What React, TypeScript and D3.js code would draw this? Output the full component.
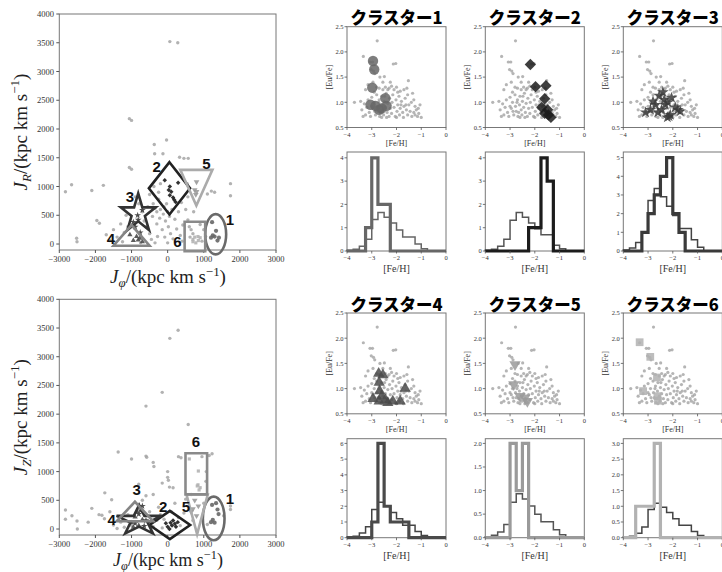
import React from "react";
import * as d3 from "d3";

const W = 722,
  H = 572;

// ---- action space: background stars [Jphi, JR] and [Jphi, JZ]
const bgJR: number[][] = [
  [60, 3520], [280, 3500], [-1060, 2180], [-1000, 2150], [-30, 1810], [-370, 1730],
  [-1060, 1330], [-1000, 1300], [-360, 1570], [-130, 1570], [330, 1510], [450, 1490],
  [570, 1490], [-2830, 910], [-2660, 1030], [-2100, 930], [-1780, 1020], [1740, 1050],
  [1740, 840], [1210, 920], [1300, 900], [1100, 870], [-1960, 410], [-1890, 360],
  [-2520, 100], [-2510, 40], [-1700, 160], [-1600, 60], [-1500, 250], [-1400, 120],
  [-1300, 350], [-1200, 200], [-1150, 500], [-1100, 300], [-700, 560], [-650, 400],
  [-600, 300], [-550, 650], [-500, 180], [-450, 80], [-420, 480], [-400, 700],
  [-350, 620], [-300, 560], [-300, 350], [-280, 130], [-250, 780], [-220, 450],
  [-200, 600], [-150, 250], [-120, 520], [-100, 650], [-80, 120], [-60, 400],
  [-30, 700], [0, 560], [20, 300], [50, 480], [80, 180], [120, 600], [150, 90],
  [200, 430], [250, 260], [300, 560], [350, 150], [380, 720], [420, 330], [500, 600],
  [540, 1050], [560, 820], [600, 300], [650, 250], [700, 180], [620, 120], [560, 420],
  [720, 560], [-800, 700], [-900, 820], [-250, 900], [-200, 1050], [-380, 1000],
  [-500, 860], [900, 340], [1000, 250], [950, 50], [1050, 130], [-1250, 40],
  [-750, 20], [-350, 20], [0, 20], [400, 50],
];
const bgJZ: number[][] = [
  [60, 3320], [290, 3460], [-150, 2380], [-600, 2140], [570, 1820], [-1370, 1340],
  [-600, 1270], [-580, 1250], [-1000, 1220], [-400, 1160], [-380, 1090], [300, 1260],
  [370, 1240], [1150, 1280], [1230, 1310], [1070, 1000], [1060, 830], [0, 1000],
  [0, 900], [20, 850], [-150, 800], [50, 730], [150, 720], [-800, 780], [-1740, 630],
  [-1550, 510], [-2100, 360], [-2830, 330], [-2650, 230], [-2830, 170], [-2510, 140],
  [-2500, 0], [-1900, 250], [-1820, 240], [1740, 400], [1740, 340], [1550, 230],
  [-1500, 70], [-1400, 10], [-1300, 120], [-1200, 30], [-1100, 250], [-1000, 60],
  [-700, 500], [-600, 580], [-500, 300], [-400, 40], [-300, 150], [-250, 380],
  [-200, 250], [-150, 20], [-100, 170], [100, 300], [200, 450], [300, 200], [350, 60],
  [450, 280], [500, 520], [600, 350], [700, 150], [650, 600], [-400, 600],
  [-1600, 300], [-1750, 180], [-2200, 120], [950, 1260], [1000, 450], [1100, 80],
];

// ---- abundance: background stars [[Fe/H], [Eu/Fe]]
const bgAbund: number[][] = [
  [-2.78, 2.22], [-3.34, 1.91], [-3.07, 1.8], [-2.97, 1.8], [-3.02, 1.65], [-2.93, 1.62],
  [-2.88, 1.57], [-2.13, 1.76], [-2.03, 1.77], [-2.67, 1.5], [-2.49, 1.51], [-1.52, 1.43],
  [-3.7, 1.0], [-3.25, 1.25], [-3.15, 1.35], [-2.95, 1.4], [-2.8, 1.3], [-2.7, 1.28],
  [-2.55, 1.25], [-2.45, 1.3], [-2.3, 1.28], [-2.2, 1.32], [-2.1, 1.25], [-2.0, 1.3],
  [-1.85, 1.22], [-1.7, 1.25], [-1.55, 1.15], [-1.35, 1.18], [-1.3, 1.05], [-1.25, 0.92],
  [-3.4, 0.85], [-3.35, 0.72], [-3.3, 0.97], [-3.2, 0.9], [-3.15, 1.05], [-3.1, 0.8],
  [-3.05, 0.72], [-3.0, 1.1], [-2.95, 0.88], [-2.9, 1.0], [-2.85, 0.75], [-2.8, 1.15],
  [-2.78, 0.92], [-2.75, 0.82], [-2.7, 1.05], [-2.68, 0.72], [-2.62, 0.95], [-2.6, 1.12],
  [-2.55, 0.85], [-2.52, 0.75], [-2.5, 1.02], [-2.45, 0.9], [-2.42, 1.18], [-2.38, 0.8],
  [-2.35, 0.98], [-2.3, 0.72], [-2.28, 1.08], [-2.25, 0.88], [-2.2, 0.78], [-2.18, 1.0],
  [-2.15, 1.15], [-2.1, 0.9], [-2.05, 0.72], [-2.02, 1.05], [-1.98, 0.82], [-1.95, 0.95],
  [-1.9, 1.12], [-1.88, 0.75], [-1.85, 0.88], [-1.8, 1.02], [-1.75, 0.8], [-1.72, 0.7],
  [-1.7, 0.92], [-1.65, 1.08], [-1.6, 0.85], [-1.55, 0.75], [-1.5, 0.95], [-1.45, 0.82],
  [-1.4, 1.0], [-1.38, 0.72], [-1.3, 0.8], [-1.25, 0.75], [-1.2, 0.85], [-1.15, 0.72],
  [-1.1, 0.78], [-1.0, 0.7], [-2.65, 0.8], [-2.88, 0.82], [-3.0, 0.92], [-2.4, 0.7],
  [-2.6, 0.7], [-2.0, 0.7], [-1.95, 1.2], [-2.35, 1.25], [-2.9, 1.2], [-3.25, 0.75],
  [-2.72, 1.0], [-2.48, 1.12], [-1.82, 0.95], [-1.62, 0.95], [-1.58, 1.28], [-2.25, 1.4],
  [-2.55, 1.4], [-3.45, 1.02], [-1.05, 0.95], [-1.12, 0.88],
];

// ---- clusters
const clusterNames = ["クラスター1", "クラスター2", "クラスター3", "クラスター4", "クラスター5", "クラスター6"];
const clusterColors = ["#676767", "#1c1c1c", "#3a3a3a", "#4a4a4a", "#9a9a9a", "#b2b2b2"];
const regionColors = ["#6a6a6a", "#222222", "#333333", "#858585", "#ababab", "#8a8a8a"];
const thinColors = ["#666666", "#555555", "#444444", "#444444", "#555555", "#444444"];

const clusterJR: number[][][] = [
  [[1230, 380], [1340, 230], [1250, 150], [1200, 110], [1380, 60], [1300, 130], [1420, 110]],
  [[-80, 1110], [290, 1065], [60, 1000], [30, 940], [100, 910], [60, 850], [150, 810], [180, 770], [220, 730]],
  [[-830, 500], [-700, 590], [-815, 420], [-900, 300], [-760, 200], [-950, 380]],
  [[-1045, 160], [-860, 130], [-770, 100], [-815, 70], [-950, 60], [-700, 40]],
  [[800, 1080], [750, 940], [800, 910], [780, 860]],
  [[700, 80], [750, 120], [840, 130], [850, 60], [700, 40], [900, 110], [780, 20]],
];
const clusterJZ: number[][][] = [
  [[1230, 420], [1340, 450], [1410, 260], [1250, 160], [1300, 110], [1380, 340], [1200, 120]],
  [[0, 40], [80, 110], [150, 150], [200, 90], [280, 120], [50, 0], [230, 40], [120, 60], [-50, 100]],
  [[-700, 400], [-800, 260], [-600, 150], [-900, 100], [-750, 320], [-650, 50]],
  [[-900, 210], [-700, 160], [-800, 60], [-1000, 110], [-850, 300], [-950, 30]],
  [[750, 500], [850, 400], [700, 350], [800, 230], [650, 300]],
  [[600, 1220], [850, 1010], [840, 770], [900, 720], [820, 750], [870, 680]],
];
const clusterAbund: number[][][] = [
  [[-3.05, 0.95], [-2.95, 1.82], [-2.9, 1.65], [-2.98, 1.29], [-2.85, 0.93], [-2.7, 0.85], [-2.6, 0.88], [-2.45, 1.08], [-2.4, 0.93]],
  [[-2.18, 1.75], [-1.97, 1.31], [-1.55, 1.33], [-1.6, 1.07], [-1.72, 0.9], [-1.6, 0.78], [-1.45, 0.75], [-1.35, 0.7], [-1.48, 0.85]],
  [[-3.1, 0.8], [-2.9, 0.85], [-2.8, 1.02], [-2.7, 0.95], [-2.6, 0.8], [-2.55, 1.13], [-2.4, 1.2], [-2.35, 1.05], [-2.45, 0.85], [-2.3, 0.95],
   [-2.2, 1.0], [-2.1, 0.75], [-2.15, 0.72], [-2.05, 1.09], [-2.22, 0.7], [-1.9, 0.9], [-1.8, 0.85], [-1.7, 0.82]],
  [[-2.95, 0.8], [-2.72, 1.3], [-2.55, 1.27], [-2.7, 1.12], [-2.68, 0.95], [-2.6, 0.85], [-2.7, 0.75], [-2.45, 0.78], [-2.35, 0.72], [-2.15, 0.75], [-1.85, 0.75], [-1.65, 1.0]],
  [[-2.8, 1.48], [-2.85, 1.08], [-2.6, 0.85], [-2.4, 0.82], [-2.3, 0.75]],
  [[-3.34, 1.92], [-2.91, 1.63], [-2.64, 1.22], [-3.2, 0.95], [-2.62, 0.85], [-2.6, 0.76]],
];

// ---- [Fe/H] histograms, 0.25 dex bins from -4 to 0
const binEdges = [-4, -3.75, -3.5, -3.25, -3, -2.75, -2.5, -2.25, -2, -1.75, -1.5, -1.25, -1, -0.75, -0.5, -0.25, 0];
const clusterHist: number[][] = [
  [0, 0, 0, 1, 4, 2, 2, 0, 0, 0, 0, 0, 0, 0, 0, 0],
  [0, 0, 0, 0, 0, 0, 0, 1, 1, 4, 3, 0, 0, 0, 0, 0],
  [0, 0, 0, 1, 2, 3, 4, 5, 2, 1, 0, 0, 0, 0, 0, 0],
  [0, 0, 0, 0, 1, 6, 2, 1, 1, 1, 0, 0, 0, 0, 0, 0],
  [0, 0, 0, 0, 2, 1, 2, 0, 0, 0, 0, 0, 0, 0, 0, 0],
  [0, 0, 1, 1, 1, 3, 0, 0, 0, 0, 0, 0, 0, 0, 0, 0],
];
const sampleHist: number[][] = [
  [0.03, 0.08, 0.2, 0.5, 1.35, 1.65, 1.45, 1.2, 0.9, 0.6, 0.6, 0.3, 0.1, 0, 0, 0],
  [0.03, 0.08, 0.2, 0.5, 1.32, 1.65, 1.45, 1.2, 0.95, 0.7, 0.7, 0.25, 0.1, 0, 0, 0],
  [0.06, 0.16, 0.45, 1.0, 2.7, 3.35, 2.9, 2.4, 1.9, 1.2, 1.2, 0.6, 0.2, 0, 0, 0],
  [0.04, 0.1, 0.3, 0.7, 1.8, 2.25, 2.0, 1.6, 1.2, 0.8, 0.8, 0.4, 0.14, 0, 0, 0],
  [0.02, 0.05, 0.12, 0.28, 0.75, 0.93, 0.82, 0.67, 0.5, 0.34, 0.34, 0.17, 0.06, 0, 0, 0],
  [0.02, 0.05, 0.14, 0.34, 0.9, 1.1, 0.97, 0.8, 0.6, 0.4, 0.4, 0.2, 0.07, 0, 0, 0],
];
const histMax = [4.25, 4.25, 5.3, 6.3, 2.1, 3.15];
const histTicks: number[][] = [
  [0, 1, 2, 3, 4],
  [0, 1, 2, 3, 4],
  [0, 1, 2, 3, 4, 5],
  [0, 1, 2, 3, 4, 5, 6],
  [0, 0.5, 1, 1.5, 2],
  [0, 0.5, 1, 1.5, 2, 2.5, 3],
];

// ---- cluster regions drawn on action panels: center and half extents (data units)
const regionShapes = ["ellipse", "diamond", "star", "triangle", "invtriangle", "rect"];
const regionsJR = [
  [1330, 170, 290, 350], [50, 968, 570, 455], [-815, 529, 509, 353],
  [-1000, 150, 500, 180], [795, 980, 445, 310], [755, 131, 285, 257],
];
const regionsJZ = [
  [1275, 185, 300, 380], [61, 70, 562, 246], [-791, 145, 655, 273],
  [-906, 305, 506, 170], [816, 255, 294, 345], [793, 962, 299, 358],
];
const labelsJR = [[1722, 417], [-307, 1344], [-1045, 822], [-1570, 99], [1075, 1391], [273, 40]];
const labelsJZ = [[1722, 535], [-125, 388], [-860, 678], [-1551, 157], [503, 388], [780, 1530]];

const jTicksX = [-3000, -2000, -1000, 0, 1000, 2000, 3000];
const jTicksY = [0, 500, 1000, 1500, 2000, 2500, 3000, 3500, 4000];
const feTicks = [-4, -3, -2, -1, 0];
const euTicks = [0.5, 1.0, 1.5, 2.0, 2.5];

const SERIF = "'Liberation Serif', 'DejaVu Serif', serif";
const SPINE = "#777";
const minus = (s: string) => s.replace("-", "\u2212");

const symbolTypes = [d3.symbolCircle, d3.symbolSquare, d3.symbolStar, d3.symbolTriangle, d3.symbolTriangle, d3.symbolSquare];
const symbolRot = [0, 45, 0, 0, 180, 0];
const bigSizes = [85, 64, 42, 55, 55, 60];
const smallSizes = [14, 10, 14, 12, 14, 10];

function unitShape(kind: string): number[][] {
  if (kind === "diamond") return [[0, 1], [1, 0], [0, -1], [-1, 0]];
  if (kind === "triangle") return [[-1, -1], [1, -1], [0, 1]];
  if (kind === "invtriangle") return [[-1, 1], [1, 1], [0, -1]];
  if (kind === "rect") return [[-1, -1], [1, -1], [1, 1], [-1, 1]];
  // five-pointed star
  return d3.range(10).map((k) => {
    const a = Math.PI / 2 + (k * Math.PI) / 5;
    const r = k % 2 === 0 ? 1 : 0.382;
    return [r * Math.cos(a), r * Math.sin(a)];
  });
}

const ActionPanel = ({ top, bottom, bg, cl, regions, labels, sub, labelGap, labelSize }: any) => {
  const x = d3.scaleLinear().domain([-3000, 3000]).range([59.3, 276]);
  const y = d3.scaleLinear().domain([-104, 4000]).range([bottom, top]);
  const line = d3.line();
  const cy = (top + bottom) / 2;
  return (
    <g>
      <rect x={59.3} y={top} width={276 - 59.3} height={bottom - top} fill="none" stroke={SPINE} strokeWidth={1} />
      {jTicksX.map((t) => (
        <g key={"x" + t}>
          <line x1={x(t)} x2={x(t)} y1={bottom} y2={bottom + 3} stroke="#555" />
          <text x={x(t)} y={bottom + 12} fontSize={8.5} fontFamily={SERIF} textAnchor="middle" fill="#333">
            {minus(String(t))}
          </text>
        </g>
      ))}
      {jTicksY.map((t) => (
        <g key={"y" + t}>
          <line x1={59.3} x2={56.3} y1={y(t)} y2={y(t)} stroke="#555" />
          <text x={54} y={y(t) + 3} fontSize={8.5} fontFamily={SERIF} textAnchor="end" fill="#333">
            {t}
          </text>
        </g>
      ))}
      {bg.map((d: number[], i: number) => (
        <circle key={"b" + i} cx={x(d[0])} cy={y(d[1])} r={1.7} fill="#a5a5a5" opacity={0.85} />
      ))}
      {cl.map((pts: number[][], c: number) =>
        pts.map((d, i) => (
          <path
            key={"c" + c + "_" + i}
            d={d3.symbol(symbolTypes[c], smallSizes[c])() as string}
            transform={`translate(${x(d[0])},${y(d[1])}) rotate(${symbolRot[c]})`}
            fill={clusterColors[c]}
            opacity={0.9}
          />
        ))
      )}
      {regions.map((r: number[], c: number) => {
        const kind = regionShapes[c];
        const common = { fill: "none", stroke: regionColors[c], strokeWidth: 2.6, strokeLinejoin: "miter" as const };
        if (kind === "ellipse") {
          return (
            <ellipse key={"r" + c} cx={x(r[0])} cy={y(r[1])}
              rx={x(r[0] + r[2]) - x(r[0])} ry={y(r[1]) - y(r[1] + r[3])} {...common} />
          );
        }
        const pts = unitShape(kind).map((u) => [x(r[0] + u[0] * r[2]), y(r[1] + u[1] * r[3])] as [number, number]);
        return <path key={"r" + c} d={line(pts) + "Z"} {...common} />;
      })}
      {labels.map((d: number[], c: number) => (
        <text key={"l" + c} x={x(d[0])} y={y(d[1])} dy="0.36em" textAnchor="middle"
          fontSize={15} fontWeight="bold" fontFamily="'Liberation Sans', Arial, sans-serif" fill="#111">
          {c + 1}
        </text>
      ))}
      <text x={168} y={bottom + labelGap} textAnchor="middle" fontSize={labelSize} fontFamily={SERIF} fill="#222">
        <tspan fontStyle="italic">J</tspan>
        <tspan fontStyle="italic" fontSize={labelSize * 0.68} dy={4}>φ</tspan>
        <tspan dy={-4}>/(kpc km s</tspan>
        <tspan fontSize={labelSize * 0.68} dy={-7}>−1</tspan>
        <tspan dy={7}>)</tspan>
      </text>
      <text transform={`translate(27,${cy}) rotate(-90)`} textAnchor="middle" fontSize={19} fontFamily={SERIF} fill="#222">
        <tspan fontStyle="italic">J</tspan>
        <tspan fontStyle="italic" fontSize={13} dy={4}>{sub}</tspan>
        <tspan dy={-4}>/(kpc km s</tspan>
        <tspan fontSize={13} dy={-8}>−1</tspan>
        <tspan dy={8}>)</tspan>
      </text>
    </g>
  );
};

const colX = [347, 485.3, 623.3];
const PW = 99;
const scatterTop = [26.7, 313];
const histTop = [152, 438.7];
const PH = 100.8;
const HH = 99;

const AbundPanel = ({ c }: any) => {
  const row = c < 3 ? 0 : 1;
  const x0 = colX[c % 3];
  const t0 = scatterTop[row];
  const x = d3.scaleLinear().domain([-4, 0]).range([x0, x0 + PW]);
  const y = d3.scaleLinear().domain([0.5, 2.5]).range([t0 + PH, t0]);
  return (
    <g>
      <text x={x0 + PW / 2} y={t0 - 2.5} textAnchor="middle" fontSize={16.5} fontWeight={900}
        fontFamily="'Noto Sans CJK JP', 'Noto Sans CJK SC', sans-serif" fill="#000">
        {clusterNames[c]}
      </text>
      <rect x={x0} y={t0} width={PW} height={PH} fill="none" stroke={SPINE} strokeWidth={1} />
      {feTicks.map((t) => (
        <g key={"x" + t}>
          <line x1={x(t)} x2={x(t)} y1={t0 + PH} y2={t0 + PH + 2.5} stroke="#555" strokeWidth={0.8} />
          <text x={x(t)} y={t0 + PH + 9} fontSize={6.5} fontFamily={SERIF} textAnchor="middle" fill="#333">
            {minus(String(t))}
          </text>
        </g>
      ))}
      {euTicks.map((t) => (
        <g key={"y" + t}>
          <line x1={x0} x2={x0 - 2.5} y1={y(t)} y2={y(t)} stroke="#555" strokeWidth={0.8} />
          <text x={x0 - 3.5} y={y(t) + 2.3} fontSize={6.5} fontFamily={SERIF} textAnchor="end" fill="#333">
            {t.toFixed(1)}
          </text>
        </g>
      ))}
      <text x={x0 + PW / 2} y={t0 + PH + 18} fontSize={8} fontFamily={SERIF} textAnchor="middle" fill="#333">[Fe/H]</text>
      <text transform={`translate(${x0 - 15},${t0 + PH / 2}) rotate(-90)`} fontSize={8} fontFamily={SERIF}
        textAnchor="middle" fill="#333">[Eu/Fe]</text>
      {bgAbund.map((d, i) => (
        <circle key={"b" + i} cx={x(d[0])} cy={y(d[1])} r={1.6} fill="#9c9c9c" opacity={0.75} />
      ))}
      {clusterAbund[c].map((d, i) => (
        <path key={"m" + i} d={d3.symbol(symbolTypes[c], bigSizes[c])() as string}
          transform={`translate(${x(d[0])},${y(d[1])}) rotate(${symbolRot[c]})`}
          fill={clusterColors[c]} opacity={0.85} />
      ))}
    </g>
  );
};

const HistPanel = ({ c }: any) => {
  const row = c < 3 ? 0 : 1;
  const x0 = colX[c % 3];
  const t0 = histTop[row];
  const x = d3.scaleLinear().domain([-4, 0]).range([x0, x0 + PW]);
  const y = d3.scaleLinear().domain([0, histMax[c]]).range([t0 + HH, t0]);
  const line = d3.line<number[]>().x((d) => x(d[0])).y((d) => y(d[1]));
  const steps = (vals: number[]) => {
    const pts: number[][] = [[binEdges[0], 0]];
    vals.forEach((v, i) => {
      pts.push([binEdges[i], v]);
      pts.push([binEdges[i + 1], v]);
    });
    pts.push([binEdges[binEdges.length - 1], 0]);
    return line(pts) as string;
  };
  const fmt = histMax[c] < 4 ? (v: number) => v.toFixed(1) : (v: number) => String(v);
  return (
    <g>
      <rect x={x0} y={t0} width={PW} height={HH} fill="none" stroke={SPINE} strokeWidth={1} />
      <path d={steps(sampleHist[c])} fill="none" stroke={thinColors[c]} strokeWidth={1.5} />
      <path d={steps(clusterHist[c])} fill="none" stroke={clusterColors[c]} strokeWidth={3.2} strokeLinejoin="miter" />
      {feTicks.map((t) => (
        <g key={"x" + t}>
          <line x1={x(t)} x2={x(t)} y1={t0 + HH} y2={t0 + HH + 2.5} stroke="#555" strokeWidth={0.8} />
          <text x={x(t)} y={t0 + HH + 9} fontSize={6.5} fontFamily={SERIF} textAnchor="middle" fill="#333">
            {minus(String(t))}
          </text>
        </g>
      ))}
      {histTicks[c].map((t) => (
        <g key={"y" + t}>
          <line x1={x0} x2={x0 - 2.5} y1={y(t)} y2={y(t)} stroke="#555" strokeWidth={0.8} />
          <text x={x0 - 3.5} y={y(t) + 2.3} fontSize={6.5} fontFamily={SERIF} textAnchor="end" fill="#333">
            {fmt(t)}
          </text>
        </g>
      ))}
      <text x={x0 + PW / 2} y={t0 + HH + 21} fontSize={10} fontFamily={SERIF} textAnchor="middle" fill="#333">[Fe/H]</text>
    </g>
  );
};

export default function App() {
  return (
    <svg width={W} height={H} style={{ position: "absolute", left: 0, top: 0, background: "#fff" }}>
      <rect width={W} height={H} fill="#fff" />
      <ActionPanel top={14} bottom={250} bg={bgJR} cl={clusterJR} regions={regionsJR} labels={labelsJR}
        sub="R" labelGap={33} labelSize={19} />
      <ActionPanel top={299.3} bottom={535} bg={bgJZ} cl={clusterJZ} regions={regionsJZ} labels={labelsJZ}
        sub="Z" labelGap={31} labelSize={18} />
      {d3.range(6).map((c) => (
        <g key={c}>
          <AbundPanel c={c} />
          <HistPanel c={c} />
        </g>
      ))}
    </svg>
  );
}
